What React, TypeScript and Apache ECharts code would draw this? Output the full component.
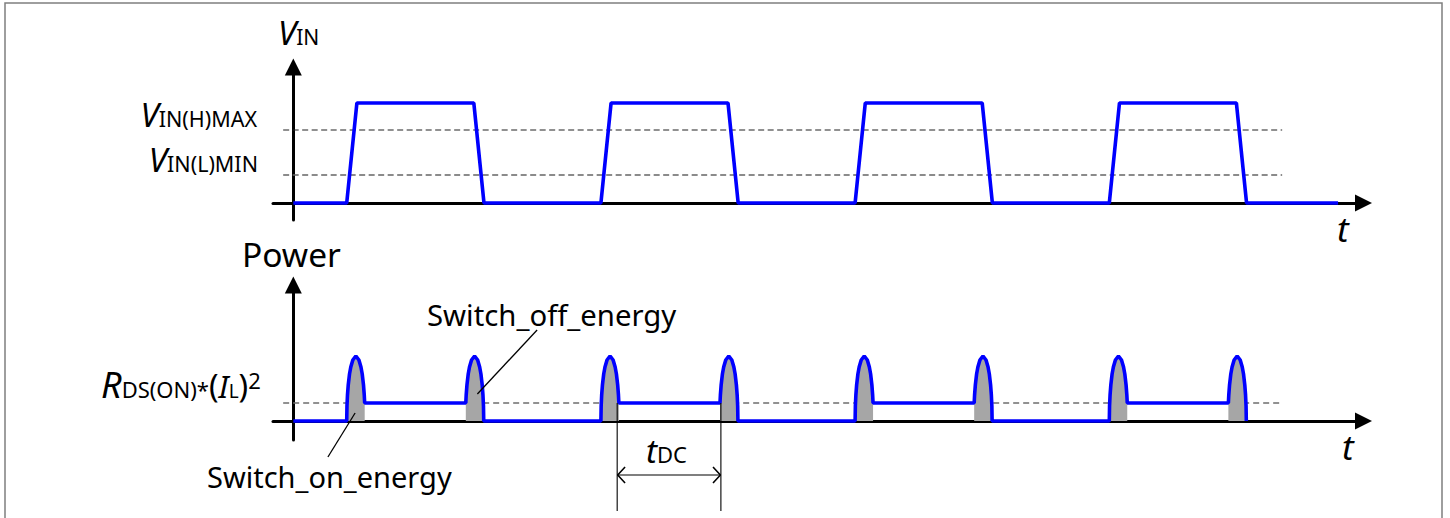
import React, { useEffect, useRef } from 'react';
import * as echarts from 'echarts';

// ---- data (time in arbitrary units, levels in arbitrary units) ----
const timeMin = -8;
const timeMax = 421;
const vinMin = -17;
const vinMax = 136;
const powerMin = -19;
const powerMax = 136;

const vinTime = [0, 21, 25, 71, 75, 121, 125, 171, 175, 221, 225, 271, 275, 321, 325, 371, 375, 411];
const vinLevel = [0, 0, 100, 100, 0, 0, 100, 100, 0, 0, 100, 100, 0, 0, 100, 100, 0, 0];
const vinHighMax = 73;
const vinLowMin = 28;
const dashSpan = [-4, 389];
const rdsLevel = 18;

const pulseStart = [21, 121, 221, 321];
const onArchOffset = [0, 0.1, 0.3, 0.6, 1.1, 1.6, 2.4, 3.6, 4.8, 5.6, 6.1, 6.6, 6.9, 7.06];
const onArchPower = [0, 15, 26, 36, 47, 54, 61, 65, 61, 54, 47, 36, 26, 18];
const offArchOffset = [46.84, 47.0, 47.3, 47.8, 48.3, 49.1, 50.3, 51.5, 52.3, 52.8, 53.3, 53.6, 53.8, 53.9];
const offArchPower = [18, 26, 36, 47, 54, 61, 65, 61, 54, 47, 36, 26, 15, 0];

const tdcFrom = 127.4;
const tdcTo = 168.2;
const tdcTop = 18;
const tdcBottom = -90;
const tdcArrowY = -54;
const chevronDx = 3.1;
const chevronDy = 8;
const onLeader = [[24.3, 8], [13.6, -36]];
const offLeader = [[72.4, 27], [95.9, 91]];

// ---- build series data ----
const vinData = vinTime.map((t, i) => [t, vinLevel[i]]);
const powerData: number[][] = [[0, 0]];
pulseStart.forEach((s) => {
  onArchOffset.forEach((o, i) => powerData.push([s + o, onArchPower[i]]));
  offArchOffset.forEach((o, i) => powerData.push([s + o, offArchPower[i]]));
});
const grayOn = pulseStart.map((s) => {
  const d = onArchOffset.map((o, i) => [s + o, onArchPower[i]]);
  d.push([s + onArchOffset[onArchOffset.length - 1], 0]);
  return d;
});
const grayOff = pulseStart.map((s) => {
  const d = [[s + offArchOffset[0], 0]];
  offArchOffset.forEach((o, i) => d.push([s + o, offArchPower[i]]));
  return d;
});

const FONT = '"Noto Sans", sans-serif';
const C = 4;
function tok(fs: number, italic = false, raise = 0) {
  const h = 2 * (C + raise + 0.388 * fs);
  return {
    fontSize: fs,
    fontFamily: FONT,
    fontStyle: italic ? 'italic' : 'normal',
    height: h,
    lineHeight: h,
    verticalAlign: 'bottom',
    fill: '#000',
  };
}
function label(x: number, baseline: number, text: string, rich: any, align = 'left') {
  return {
    type: 'text',
    x,
    y: baseline + C,
    z: 10,
    silent: true,
    style: {
      text,
      rich,
      fill: '#000',
      align,
      verticalAlign: 'bottom',
      textAlign: align,
      textVerticalAlign: 'bottom',
    },
  };
}

function axisCommon(extra: any) {
  return {
    type: 'value',
    axisLine: {
      show: true,
      onZero: true,
      symbol: ['none', 'triangle'],
      symbolSize: [17, 17],
      lineStyle: { color: '#000', width: 3 },
    },
    axisTick: { show: false },
    axisLabel: { show: false },
    splitLine: { show: false },
    ...extra,
  };
}

function lineSeries(data: any, x: number, color: string, width: number, extra: any = {}) {
  return {
    type: 'line',
    xAxisIndex: x,
    yAxisIndex: x,
    data,
    symbol: 'none',
    silent: true,
    animation: false,
    lineStyle: { color, width },
    ...extra,
  };
}

export default function App() {
  const ref = useRef<HTMLDivElement>(null);
  useEffect(() => {
    if (!ref.current) return;
    const chart = echarts.init(ref.current, null, { renderer: 'svg' });
    const series: any[] = [
      lineSeries([[dashSpan[0], vinHighMax], [dashSpan[1], vinHighMax]], 0, '#111', 1, { lineStyle: { color: '#222', width: 1.1, type: [6, 3.5] }, z: 1 }),
      lineSeries([[dashSpan[0], vinLowMin], [dashSpan[1], vinLowMin]], 0, '#666', 1.3, { lineStyle: { color: '#666', width: 1.3, type: [6, 3.5] }, z: 1 }),
      lineSeries(vinData, 0, '#0000ff', 3.6, { z: 5 }),
      lineSeries([[dashSpan[0], rdsLevel], [dashSpan[1], rdsLevel]], 1, '#6e6e6e', 1.5, { lineStyle: { color: '#6e6e6e', width: 1.5, type: [6, 4] }, z: 1 }),
    ];
    [...grayOn, ...grayOff].forEach((d) => {
      series.push(lineSeries(d, 1, '#a6a6a6', 0, { areaStyle: { color: '#a6a6a6', opacity: 1 }, lineStyle: { width: 0, color: '#a6a6a6' }, z: 2 }));
    });
    series.push(lineSeries(powerData, 1, '#0000ff', 3.6, { z: 5 }));
    const thin = (data: any, w: number) => lineSeries(data, 1, '#000', w, { clip: false, z: 6 });
    series.push(thin([[tdcFrom, tdcTop], [tdcFrom, tdcBottom]], 1.1));
    series.push(thin([[tdcTo, tdcTop], [tdcTo, tdcBottom]], 1.1));
    series.push(thin([[tdcFrom, tdcArrowY], [tdcTo, tdcArrowY]], 1.2));
    series.push(thin([[tdcFrom + chevronDx, tdcArrowY + chevronDy], [tdcFrom + 0.2, tdcArrowY], [tdcFrom + chevronDx, tdcArrowY - chevronDy]], 1.6));
    series.push(thin([[tdcTo - chevronDx, tdcArrowY + chevronDy], [tdcTo - 0.2, tdcArrowY], [tdcTo - chevronDx, tdcArrowY - chevronDy]], 1.6));
    series.push(thin(onLeader, 1.3));
    series.push(thin(offLeader, 1.3));

    const option: any = {
      animation: false,
      backgroundColor: '#ffffff',
      grid: [
        { left: 273, top: 67, width: 1090.5, height: 153 },
        { left: 273, top: 285, width: 1090.5, height: 155 },
      ],
      xAxis: [
        axisCommon({ gridIndex: 0, min: timeMin, max: timeMax }),
        axisCommon({ gridIndex: 1, min: timeMin, max: timeMax }),
      ],
      yAxis: [
        axisCommon({ gridIndex: 0, min: vinMin, max: vinMax }),
        axisCommon({ gridIndex: 1, min: powerMin, max: powerMax }),
      ],
      series,
      graphic: [
        {
          type: 'rect',
          silent: true,
          shape: { x: 5, y: 3, width: 1437, height: 540 },
          style: { fill: 'none', stroke: '#7f7f7f', lineWidth: 1.5 },
          z: 0,
        },
        label(278, 45, '{v|V}{s|IN}', { v: tok(33, true), s: tok(21) }),
        label(257, 127, '{v|V}{s|IN(H)MAX}', { v: tok(33, true), s: tok(21.5) }, 'right'),
        label(258, 172, '{v|V}{s|IN(L)MIN}', { v: tok(33, true), s: tok(21.5) }, 'right'),
        label(242, 267, '{a|Power}', { a: tok(33.5) }),
        label(101, 398, '{r|R}{s|DS(ON)*}{p|(}{i|I}{l|L}{p|)}{e|2}', {
          r: tok(36, true),
          s: tok(22),
          p: tok(32),
          i: tok(31, true),
          l: tok(19),
          e: tok(22, false, 9),
        }),
        label(427, 326, '{a|Switch_off_energy}', { a: tok(29.3) }),
        label(207, 488, '{a|Switch_on_energy}', { a: tok(29) }),
        label(1337, 242, '{t|t}', { t: tok(35, true) }),
        label(1342, 460, '{t|t}', { t: tok(35, true) }),
        label(646, 463, '{t|t}{s|DC}', { t: tok(33, true), s: tok(22) }),
      ],
    };
    chart.setOption(option);
    return () => chart.dispose();
  }, []);
  return (
    <div
      ref={ref}
      style={{ position: 'absolute', left: 0, top: 0, width: 1450, height: 518, background: '#fff' }}
    />
  );
}
